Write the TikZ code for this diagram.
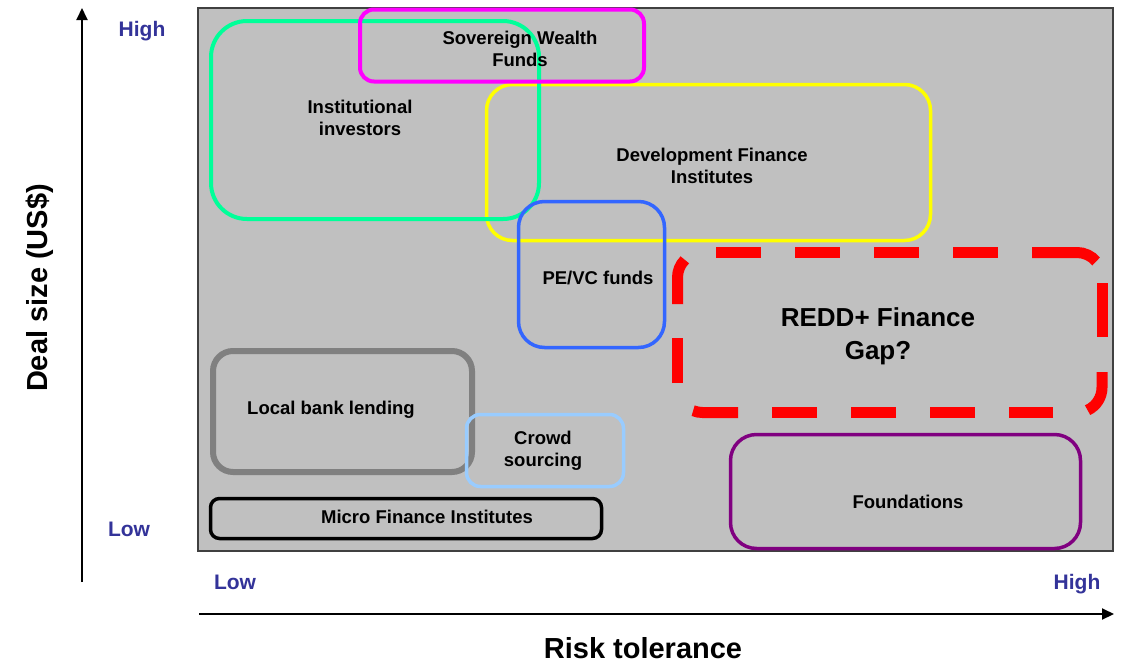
\documentclass[tikz,border=0pt]{standalone}
\usepackage{fontspec}
\setmainfont{Liberation Sans}
\usetikzlibrary{arrows.meta}
\definecolor{panelfill}{RGB}{192,192,192}
\definecolor{panelline}{RGB}{64,64,64}
\definecolor{cgreen}{RGB}{0,255,153}
\definecolor{cmagenta}{RGB}{255,0,255}
\definecolor{cyellow}{RGB}{255,255,0}
\definecolor{cblue}{RGB}{51,102,255}
\definecolor{cgray}{RGB}{128,128,128}
\definecolor{clightblue}{RGB}{153,204,255}
\definecolor{cpurple}{RGB}{128,0,128}
\definecolor{cred}{RGB}{255,0,0}
\definecolor{axblue}{RGB}{51,51,153}
\begin{document}
\begin{tikzpicture}[x=1pt,y=-1pt,
  frame/.style={draw, inner sep=0pt, outer sep=0pt},
  lbl/.style={font=\fontsize{18.5}{22}\selectfont\bfseries, align=center, inner sep=0pt},
  biglbl/.style={font=\fontsize{26}{33}\selectfont\bfseries, align=center, inner sep=0pt},
  axlbl/.style={font=\fontsize{29}{34}\selectfont\bfseries, inner sep=0pt},
  ticklbl/.style={font=\fontsize{21}{24}\selectfont\bfseries, text=axblue, inner sep=0pt, anchor=base},
  reddash/.style={draw=cred, line width=11pt, line cap=butt},
  axis/.style={line width=2pt, -{Triangle[length=12pt,width=11pt]}}]
\useasboundingbox (0,0) rectangle (1125,662);
% panel
\node[frame, draw=panelline, fill=panelfill, line width=1.2pt, minimum width=915, minimum height=543] (panel) at (655.5,279.5) {};
% boxes
\node[frame, draw=cyellow, line width=3.5pt, rounded corners=26pt, minimum width=444, minimum height=156] (dfi) at (708.5,162.5) {};
\node[frame, draw=cgreen, line width=4pt, rounded corners=36pt, minimum width=328, minimum height=198] (inst) at (375,120) {};
\node[frame, draw=cmagenta, line width=4pt, rounded corners=14pt, minimum width=284, minimum height=72] (swf) at (502,45.5) {};
\node[frame, draw=cblue, line width=3.5pt, rounded corners=26pt, minimum width=146, minimum height=146] (pevc) at (591.5,274.5) {};
% red dashed gap outline, drawn dash by dash
\draw[reddash] (716,252.5) -- (761,252.5);
\draw[reddash] (795,252.5) -- (840,252.5);
\draw[reddash] (874,252.5) -- (919,252.5);
\draw[reddash] (953,252.5) -- (998,252.5);
\draw[reddash] (1032,252.5) -- (1077,252.5) arc[start angle=-90, end angle=-40, radius=25];
\draw[reddash] (1102,283) -- (1102,337);
\draw[reddash] (1102,372) -- (1102,387.5) arc[start angle=0, end angle=65, radius=25];
\draw[reddash] (1053,412.5) -- (1009,412.5);
\draw[reddash] (975,412.5) -- (930,412.5);
\draw[reddash] (896,412.5) -- (851,412.5);
\draw[reddash] (817,412.5) -- (772,412.5);
\draw[reddash] (738,412.5) -- (702.5,412.5) arc[start angle=90, end angle=112, radius=25];
\draw[reddash] (677.5,383) -- (677.5,338);
\draw[reddash] (677.5,304) -- (677.5,277.5) arc[start angle=180, end angle=225, radius=25];
\node[frame, draw=cgray, line width=6pt, rounded corners=20pt, minimum width=259, minimum height=121] (local) at (342.5,411.5) {};
\node[frame, draw=clightblue, line width=3.5pt, rounded corners=14pt, minimum width=157, minimum height=72] (crowd) at (545,450.5) {};
\node[frame, draw=black, line width=3.5pt, rounded corners=9pt, minimum width=391, minimum height=40] (mfi) at (406,518.5) {};
\node[frame, draw=cpurple, line width=3.5pt, rounded corners=26pt, minimum width=350, minimum height=114] (found) at (905.5,491.5) {};
% labels
\node[lbl] (instt) at (360,118) {Institutional\\investors};
\node[lbl] (swft) at (520,49) {Sovereign Wealth\\Funds};
\node[lbl] (dfit) at (712,166) {Development Finance\\Institutes};
\node[lbl] (pevct) at (598,278) {PE/VC funds};
\node[biglbl] (reddt) at (878,336) {REDD+ Finance\\Gap?};
\node[lbl] (localt) at (331,410) {Local bank lending};
\node[lbl] (crowdt) at (543,451) {Crowd\\sourcing};
\node[lbl] (mfit) at (427,517) {Micro Finance Institutes};
\node[lbl] (foundt) at (908,502) {Foundations};
% axes
\coordinate (ybot) at (82,582);
\coordinate (ytop) at (82,8);
\coordinate (xleft) at (199,614);
\coordinate (xright) at (1114,614);
\draw[axis] (ybot) -- (ytop);
\draw[axis] (xleft) -- (xright);
\node[ticklbl] (yhigh) at (142,36) {High};
\node[ticklbl] (ylow) at (129,536) {Low};
\node[ticklbl] (xlow) at (235,589) {Low};
\node[ticklbl] (xhigh) at (1077,589) {High};
\node[axlbl, rotate=90] (ylab) at (40,288) {Deal size (US\$)};
\node[axlbl, anchor=base] (xlab) at (643,658) {Risk tolerance};
\end{tikzpicture}
\end{document}
